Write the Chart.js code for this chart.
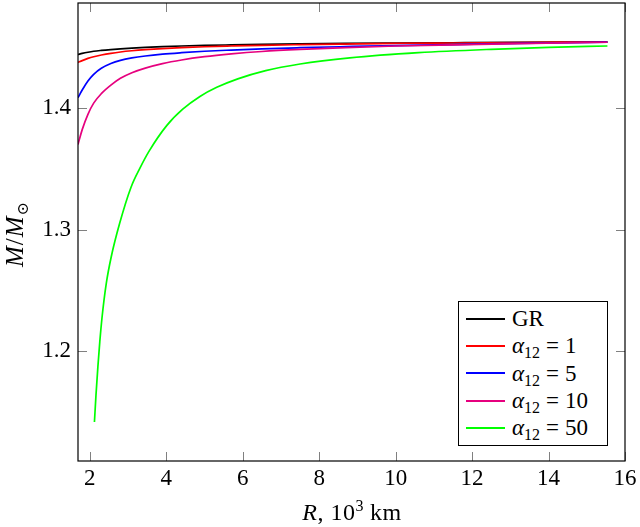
<!DOCTYPE html>
<html>
<head>
<meta charset="utf-8">
<script src="https://cdn.jsdelivr.net/npm/chart.js@4.4.1/dist/chart.umd.min.js"></script>
<style>
    html, body { margin: 0; padding: 0; background: #fff; }
    #wrap { position: relative; width: 640px; height: 527px; font-family: "Liberation Serif", "DejaVu Serif", serif; color: #000; }
    #chart { position: absolute; left: 0; top: 0; }
    .legend { position: absolute; left: 458px; top: 301px; width: 150px; height: 145px; box-sizing: border-box;
              border: 1px solid #000; background: #fff; padding-top: 3px; }
    .legend .row { height: 27.3px; display: flex; align-items: center; font-size: 23px; line-height: 1; }
    .legend .swatch { width: 39px; height: 2px; margin-left: 7px; margin-right: 7px; flex: none; }
    .legend .eq { margin: 0 6px; }
    .legend sub, .ytitle sub { font-size: 16px; vertical-align: -5px; line-height: 0; }
    .xtitle { position: absolute; left: 352px; top: 512px; transform: translate(-50%, -50%); font-size: 24px; letter-spacing: 0.5px; white-space: nowrap; }
    .xtitle sup { font-size: 16px; vertical-align: 9px; line-height: 0; }
    .xtitle .sp { margin-left: 6px; }
    .ytitle { position: absolute; left: 15px; top: 234px; transform: translate(-50%, -50%) rotate(-90deg); font-size: 25px; letter-spacing: 1px; white-space: nowrap; }
</style>
</head>
<body>
<div id="wrap">
    <canvas id="chart" width="640" height="527"></canvas>
    <div class="xtitle"><i>R</i>, 10<sup>3</sup><span class="sp">km</span></div>
    <div class="ytitle"><i>M</i>/<i>M</i><sub>&#8857;</sub></div>
    <div class="legend" id="legend"></div>
</div>
<script>
// R in 10^3 km, M in solar masses
const rGrid = [1.69, 1.8, 1.95, 2.1, 2.3, 2.55, 2.8, 3.1, 3.45, 3.9, 4.4, 5, 5.7, 6.5, 7.5, 8.7, 10, 11.5, 13.2, 15.54];
const massGR = [1.4440, 1.4449, 1.4459, 1.4467, 1.4474, 1.4481, 1.4487, 1.4493, 1.4499, 1.4505, 1.4510, 1.4515, 1.4519, 1.4523, 1.4527, 1.4531, 1.4534, 1.4537, 1.4540, 1.4543];
const massA1 = [1.4375, 1.4390, 1.4408, 1.4422, 1.4436, 1.4450, 1.4461, 1.4471, 1.4480, 1.4489, 1.4497, 1.4504, 1.4510, 1.4516, 1.4521, 1.4526, 1.4531, 1.4535, 1.4539, 1.4544];
const massA5 = [1.4085, 1.4148, 1.4222, 1.4277, 1.4327, 1.4366, 1.4392, 1.4412, 1.4428, 1.4443, 1.4455, 1.4467, 1.4477, 1.4487, 1.4496, 1.4505, 1.4514, 1.4522, 1.4531, 1.4542];
const massA10 = [1.3700, 1.3822, 1.3948, 1.4040, 1.4118, 1.4188, 1.4244, 1.4290, 1.4328, 1.4365, 1.4395, 1.4422, 1.4445, 1.4465, 1.4482, 1.4497, 1.4510, 1.4520, 1.4530, 1.4541];
const rA50 = [2.12, 2.16, 2.21, 2.26, 2.32, 2.43, 2.56, 2.78, 3.08, 3.31, 3.55, 4.01, 4.43, 4.88, 5.32, 5.87, 6.6, 7.5, 8.8, 10.6, 12.5, 14, 15.54];
const massA50 = [1.1416, 1.1635, 1.1870, 1.2075, 1.2280, 1.2557, 1.2776, 1.3051, 1.3350, 1.3505, 1.3645, 1.3855, 1.3990, 1.4095, 1.4170, 1.4240, 1.4308, 1.4362, 1.4412, 1.4455, 1.4483, 1.4499, 1.4510];

const alphaValues = [null, 1, 5, 10, 50];
const seriesColors = ['#000000', '#ff0000', '#0000ff', '#e6007e', '#00ff00'];
const xTicks = [2, 4, 6, 8, 10, 12, 14, 16];
const yTicks = [1.2, 1.3, 1.4];

const seriesR = [rGrid, rGrid, rGrid, rGrid, rA50];
const seriesM = [massGR, massA1, massA5, massA10, massA50];

const seriesLabel = a => a === null ? 'GR' : `α12 = ${a}`;
const seriesHtml = a => a === null ? 'GR' : `<i>&alpha;</i><sub>12</sub><span class="eq">=</span>${a}`;

// inward tick marks on all four sides plus the black frame
const framePlugin = {
    id: 'frame',
    afterDatasetsDraw(chart) {
        const { ctx, chartArea: a, scales } = chart;
        ctx.save();
        ctx.strokeStyle = '#808080';
        ctx.lineWidth = 1;
        ctx.beginPath();
        scales.x.ticks.forEach(t => {
            const px = Math.round(scales.x.getPixelForValue(t.value)) + 0.5;
            ctx.moveTo(px, a.bottom); ctx.lineTo(px, a.bottom - 9);
            ctx.moveTo(px, a.top); ctx.lineTo(px, a.top + 9);
        });
        scales.y.ticks.forEach(t => {
            const py = Math.round(scales.y.getPixelForValue(t.value)) + 0.5;
            ctx.moveTo(a.left, py); ctx.lineTo(a.left + 9, py);
            ctx.moveTo(a.right, py); ctx.lineTo(a.right - 9, py);
        });
        ctx.stroke();
        ctx.strokeStyle = '#000';
        ctx.lineWidth = 1.2;
        ctx.strokeRect(a.left, a.top, a.right - a.left, a.bottom - a.top);
        ctx.restore();
    }
};

const tickFont = { family: '"Liberation Serif", serif', size: 23 };

const chart = new Chart(document.getElementById('chart').getContext('2d'), {
    type: 'line',
    data: {
        datasets: alphaValues.map((a, i) => ({
            label: seriesLabel(a),
            data: seriesR[i].map((r, j) => ({ x: r, y: seriesM[i][j] })),
            borderColor: seriesColors[i],
            borderWidth: 1.7,
            pointRadius: 0,
            fill: false,
            cubicInterpolationMode: 'monotone',
            order: alphaValues.length - i
        }))
    },
    options: {
        responsive: false,
        animation: false,
        layout: { padding: { left: 0, right: 15, top: 3, bottom: 0 } },
        plugins: { legend: { display: false }, tooltip: { enabled: false } },
        scales: {
            x: {
                type: 'linear',
                min: 1.69,
                max: 16.0,
                grid: { display: false, drawTicks: false },
                border: { display: false },
                afterBuildTicks: s => { s.ticks = xTicks.map(v => ({ value: v })); },
                afterFit: s => { s.height = 66; s.paddingLeft = 0; s.paddingRight = 0; },
                ticks: { font: tickFont, color: '#000', padding: 4, maxRotation: 0, autoSkip: false }
            },
            y: {
                type: 'linear',
                min: 1.1095,
                max: 1.4864,
                grid: { display: false, drawTicks: false },
                border: { display: false },
                afterBuildTicks: s => { s.ticks = yTicks.map(v => ({ value: v })); },
                afterFit: s => { s.width = 78; s.paddingTop = 0; s.paddingBottom = 0; },
                ticks: { font: tickFont, color: '#000', padding: 7, callback: v => v.toFixed(1) }
            }
        }
    },
    plugins: [framePlugin]
});

document.getElementById('legend').innerHTML = chart.data.datasets.map((ds, i) => `
    <div class="row">
        <span class="swatch" style="background:${ds.borderColor}"></span>
        <span>${seriesHtml(alphaValues[i])}</span>
    </div>
`).join('');
</script>
</body>
</html>
